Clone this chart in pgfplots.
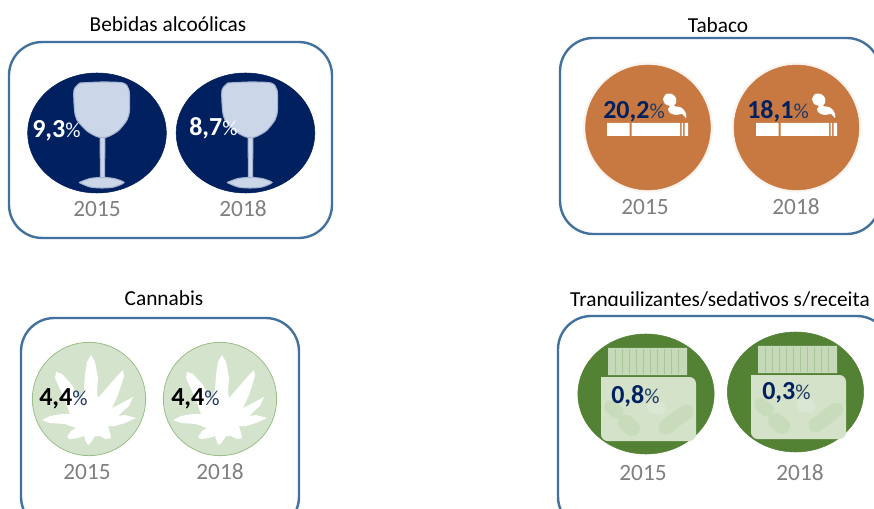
\documentclass[border=0pt]{standalone}
\usepackage{fontspec}
\setmainfont{Carlito}
\usepackage{pgfplots}
\usepackage{pgfplotstable}
\pgfplotsset{compat=1.18}

\definecolor{frame}{HTML}{41719C}
\definecolor{navy}{HTML}{002060}
\definecolor{pctblue}{HTML}{1F3864}
\definecolor{yeargray}{HTML}{7F7F7F}
\definecolor{glassfill}{HTML}{CBD6E8}
\definecolor{glassedge}{HTML}{A3B3CF}
\definecolor{tobacco}{HTML}{C87941}
\definecolor{halo}{HTML}{FBF3EE}
\definecolor{leafbg}{HTML}{D4E4CC}
\definecolor{leafedge}{HTML}{9ABD88}
\definecolor{jargreen}{HTML}{548235}
\definecolor{jarbody}{HTML}{D3E2C9}
\definecolor{jarlid}{HTML}{C5D9B9}
\definecolor{jarline}{HTML}{A9C69A}
\definecolor{pill}{HTML}{C8DCBC}
\definecolor{pilllight}{HTML}{DAE7D2}

% circle centre, label position, value, year label position
\pgfplotstableread{
cx cy lx ly val yx yy year
97 133 32 138 9.3 97 209 2015
245.5 133 189 136 8.7 243 209 2018
}\alcohol
\pgfplotstableread{
cx cy lx ly val yx yy year
648 127.5 603 119 20.2 645 207 2015
796.5 127.5 747 119 18.1 796 207 2018
}\tobaccotab
\pgfplotstableread{
cx cy lx ly val yx yy year
89 399 39 405 4.4 87 472 2015
220 399 171 405 4.4 220 472 2018
}\cannabis
\pgfplotstableread{
cx cy lx ly val yx yy year
646 394 611 403 0.8 643 473 2015
795.5 392 762 399 0.3 800 473 2018
}\sedatives

\pgfplotstableread{
x y
80 83
102 82
123 83
129 90
129.5 110
127 120
118 131
107 137
98 137
87 131
77 120
74.5 110
74 90
80 83
}\glassbowl

\pgfplotstableread{
x y
100 135
105 135
104.5 176
106 180
99 180
100.5 176
100 135
}\glassstem

\pgfplotstableread{
x y
79 182.5
90 178.5
102 177.5
114 178.5
124 182.5
114 187
102 188
90 187
79 182.5
}\glassfoot

\pgfplotstableread{
x y
663 99
666 94
672 94
676 98
676 103
674 106
680 107
684 110
686 114
686 118
682 114
676 115
670 113
668 109
670 106
665 104
663 99
}\smoke

\pgfplotstableread{
x y
91 355
95 362
98 378
97 392
98 398
105 390
118 375
123 370
124 376
118 395
112 408
120 404
133 397
129 406
122 412
118 416
125 415
136 418
125 423
115 426
108 426
110 433
111 438
106 439
100 436
95 436
91 442
88 445
86 442
84 436
78 438
70 439
67 437
71 431
76 428
65 424
50 423
42 420
50 416
62 414
70 414
65 400
55 378
56 372
62 374
72 385
80 400
84 390
85 375
87 362
91 355
}\leaf

\newcommand{\frameat}[4]{\draw[frame,line width=1.8pt,rounded corners=25pt]
  (axis cs:#1,#2) rectangle (axis cs:#3,#4);}
\newcommand{\disc}[2]{\addplot[only marks,mark=*,mark size=45pt,
  mark options={xscale=#2,fill=#1,draw=#1}] table[x=cx,y=cy]}

\newcommand{\glassicon}[1]{%
  \addplot[fill=glassfill,draw=glassedge,line width=0.8pt,xshift=#1] table {\glassstem};
  \addplot[fill=glassfill,draw=glassedge,line width=0.8pt,smooth,tension=0.45,xshift=#1] table {\glassfoot};
  \addplot[fill=glassfill,draw=glassedge,line width=0.8pt,smooth,tension=0.45,xshift=#1] table {\glassbowl};}
\newcommand{\cigarette}[1]{%
  \addplot[fill=white,draw=none,xshift=#1] coordinates {(607,123) (629.5,123) (629.5,136) (607,136) (607,123)};
  \addplot[fill=white,draw=none,xshift=#1] coordinates {(631.5,123) (680,123) (680,136) (631.5,136) (631.5,123)};
  \addplot[fill=white,draw=none,xshift=#1] coordinates {(681.5,123) (683,123) (683,136) (681.5,136) (681.5,123)};
  \addplot[fill=white,draw=none,xshift=#1] coordinates {(684.5,123) (688,123) (688,136) (684.5,136) (684.5,123)};
  \addplot[fill=white,draw=none,smooth,tension=0.5,xshift=#1] table {\smoke};}

\newcommand{\jar}[2]{%
  \addplot[fill=jarlid,draw=none,xshift=#1,yshift=#2] coordinates {(608,348) (687,348) (687,375) (608,375) (608,348)};
  \addplot[jarline,line width=0.7pt,xshift=#1,yshift=#2] coordinates {(615,349) (615,374)};
  \addplot[jarline,line width=0.7pt,xshift=#1,yshift=#2] coordinates {(622,349) (622,374)};
  \addplot[jarline,line width=0.7pt,xshift=#1,yshift=#2] coordinates {(629,349) (629,374)};
  \addplot[jarline,line width=0.7pt,xshift=#1,yshift=#2] coordinates {(636,349) (636,374)};
  \addplot[jarline,line width=0.7pt,xshift=#1,yshift=#2] coordinates {(643,349) (643,374)};
  \addplot[jarline,line width=0.7pt,xshift=#1,yshift=#2] coordinates {(650,349) (650,374)};
  \addplot[jarline,line width=0.7pt,xshift=#1,yshift=#2] coordinates {(657,349) (657,374)};
  \addplot[jarline,line width=0.7pt,xshift=#1,yshift=#2] coordinates {(664,349) (664,374)};
  \addplot[jarline,line width=0.7pt,xshift=#1,yshift=#2] coordinates {(671,349) (671,374)};
  \addplot[jarline,line width=0.7pt,xshift=#1,yshift=#2] coordinates {(678,349) (678,374)};
  \addplot[fill=jarbody,draw=none,rounded corners=5pt,xshift=#1,yshift=#2] coordinates
    {(601,377) (696,377) (696,441) (601,441) (601,377)};
  \addplot[pill,line width=10pt,line cap=round,xshift=#1,yshift=#2] coordinates {(611,407) (617,412)};
  \addplot[pill,line width=12pt,line cap=round,xshift=#1,yshift=#2] coordinates {(626,423) (632,428)};
  \addplot[pilllight,line width=10pt,line cap=round,xshift=#1,yshift=#2] coordinates {(653,407) (659,408)};
  \addplot[pill,line width=11pt,line cap=round,xshift=#1,yshift=#2] coordinates {(666,427) (686,412)};}

% value label: bold number and a lighter percent sign, left edge at lx,ly
\newcommand{\vals}[3]{\addplot[draw=none,mark=none,point meta=explicit,
  nodes near coords={\textcolor{#2}{\fontsize{19.5}{19.5}\selectfont\bfseries
    \pgfmathprintnumber[fixed,fixed zerofill,precision=1,use comma,assume math mode=true]{\pgfplotspointmeta}}%
    \textcolor{#3}{\fontsize{16}{16}\selectfont\%}},
  nodes near coords style={anchor=base west,inner sep=0pt}]
  table[x=lx,y=ly,meta=val]{#1};}
\newcommand{\years}[1]{\addplot[draw=none,mark=none,point meta=explicit symbolic,
  nodes near coords,
  nodes near coords style={anchor=center,inner sep=0pt,text=yeargray,font=\fontsize{17.5}{17.5}\selectfont}]
  table[x=yx,y=yy,meta=year]{#1};}

\begin{document}
\begin{tikzpicture}
\path[use as bounding box] (0,0) rectangle (655.5pt,381.75pt);
\begin{axis}[
    scale only axis,
    width=655.5pt,
    height=381.75pt,
    xmin=0,xmax=874,
    ymin=0,ymax=509,
    y dir=reverse,
    hide axis,
    clip=true,
    clip marker paths=true,
]
% titles
\node[font=\fontsize{16}{16}\selectfont] at (axis cs:168,24) {Bebidas alcoólicas};
\node[font=\fontsize{16}{16}\selectfont] at (axis cs:718,25) {Tabaco};
\node[font=\fontsize{16}{16}\selectfont] at (axis cs:164,298) {Cannabis};
\node[font=\fontsize{16}{16}\selectfont] at (axis cs:720,301) {Tranquilizantes/sedativos s/receita};
\fill[white] (axis cs:560,306.5) rectangle (axis cs:874,320);

% panels
\frameat{9}{42}{332}{238}
\frameat{560}{38}{880}{234}
\frameat{21}{318}{299}{530}
\frameat{558}{316}{890}{530}

% alcohol
\disc{navy}{1.155}{\alcohol};
\glassicon{0pt}
\glassicon{111pt}

% tobacco
\addplot[only marks,mark=*,mark size=48.5pt,mark options={fill=halo,draw=halo}] table[x=cx,y=cy]{\tobaccotab};
\addplot[only marks,mark=*,mark size=46.8pt,mark options={fill=tobacco,draw=tobacco}] table[x=cx,y=cy]{\tobaccotab};
\cigarette{0pt}
\cigarette{111.75pt}

% cannabis
\addplot[only marks,mark=*,mark size=42.5pt,mark options={fill=leafbg,draw=leafedge,line width=0.6pt}] table[x=cx,y=cy]{\cannabis};
\addplot[fill=white,draw=none] table {\leaf};
\addplot[fill=white,draw=none,xshift=98.25pt] table {\leaf};

% sedatives
\disc{jargreen}{1.135}{\sedatives};
\jar{0pt}{0pt}
\jar{112.5pt}{1.5pt}

% value and year labels
\vals{\alcohol}{white}{white}
\vals{\tobaccotab}{navy}{pctblue}
\vals{\cannabis}{black}{pctblue}
\vals{\sedatives}{navy}{pctblue}
\years{\alcohol}
\years{\tobaccotab}
\years{\cannabis}
\years{\sedatives}
\end{axis}
\end{tikzpicture}
\end{document}
